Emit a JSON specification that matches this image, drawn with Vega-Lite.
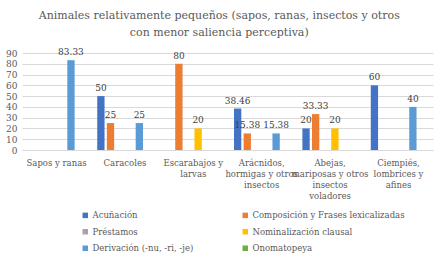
{
  "$schema": "https://vega.github.io/schema/vega-lite/v6.json",
  "width": 411,
  "height": 97,
  "padding": {"left": 5, "right": 12, "top": 10, "bottom": 0},
  "background": "white",
  "title": {
    "text": ["Animales relativamente pequeños (sapos, ranas, insectos y otros", "con menor saliencia perceptiva)"],
    "font": "DejaVu Serif",
    "fontSize": 11,
    "fontWeight": "normal",
    "color": "#595959",
    "anchor": "middle",
    "frame": "bounds",
    "lineHeight": 17,
    "offset": 10
  },
  "data": {
    "values": [
      {"cat": "Sapos y ranas", "serie": "Derivación (-nu, -ri, -je)", "v": 83.33},
      {"cat": "Caracoles", "serie": "Acuñación", "v": 50},
      {"cat": "Caracoles", "serie": "Composición y Frases lexicalizadas", "v": 25},
      {"cat": "Caracoles", "serie": "Derivación (-nu, -ri, -je)", "v": 25},
      {"cat": "Escarabajos y|larvas", "serie": "Composición y Frases lexicalizadas", "v": 80},
      {"cat": "Escarabajos y|larvas", "serie": "Nominalización clausal", "v": 20},
      {"cat": "Arácnidos,|hormigas y otros|insectos", "serie": "Acuñación", "v": 38.46},
      {"cat": "Arácnidos,|hormigas y otros|insectos", "serie": "Composición y Frases lexicalizadas", "v": 15.38},
      {"cat": "Arácnidos,|hormigas y otros|insectos", "serie": "Derivación (-nu, -ri, -je)", "v": 15.38},
      {"cat": "Abejas,|mariposas y otros|insectos|voladores", "serie": "Acuñación", "v": 20},
      {"cat": "Abejas,|mariposas y otros|insectos|voladores", "serie": "Composición y Frases lexicalizadas", "v": 33.33},
      {"cat": "Abejas,|mariposas y otros|insectos|voladores", "serie": "Nominalización clausal", "v": 20},
      {"cat": "Ciempiés,|lombrices y|afines", "serie": "Acuñación", "v": 60},
      {"cat": "Ciempiés,|lombrices y|afines", "serie": "Derivación (-nu, -ri, -je)", "v": 40}
    ]
  },
  "encoding": {
    "x": {
      "field": "cat", "type": "nominal", "sort": null,
      "scale": {"paddingInner": 0.19, "paddingOuter": 0.1},
      "axis": {
        "title": null, "labelAngle": 0, "ticks": false,
        "labelExpr": "split(datum.label, '|')",
        "labelFont": "DejaVu Serif", "labelFontSize": 8.5, "labelColor": "#595959",
        "labelLineHeight": 11, "labelPadding": 8, "labelLimit": 0,
        "domainColor": "#D9D9D9", "grid": false
      }
    },
    "xOffset": {
      "field": "serie", "type": "nominal",
      "scale": {
        "domain": ["Acuñación", "Composición y Frases lexicalizadas", "Préstamos", "Nominalización clausal", "Derivación (-nu, -ri, -je)", "Onomatopeya"],
        "paddingInner": 0.24, "paddingOuter": 0
      }
    },
    "y": {
      "field": "v", "type": "quantitative",
      "scale": {"domain": [0, 90]},
      "axis": {
        "title": null, "values": [0, 10, 20, 30, 40, 50, 60, 70, 80, 90],
        "domain": false, "ticks": false, "gridColor": "#D9D9D9",
        "labelFont": "DejaVu Serif", "labelFontSize": 9, "labelColor": "#595959", "labelPadding": 5
      }
    }
  },
  "layer": [
    {
      "mark": {"type": "bar"},
      "encoding": {
        "color": {
          "field": "serie", "type": "nominal",
          "scale": {
            "domain": ["Acuñación", "Composición y Frases lexicalizadas", "Préstamos", "Nominalización clausal", "Derivación (-nu, -ri, -je)", "Onomatopeya"],
            "range": ["#4472C4", "#ED7D31", "#A5A5A5", "#FFC000", "#5B9BD5", "#70AD47"]
          },
          "legend": {
            "title": null, "orient": "none", "legendX": 59, "legendY": 158,
            "direction": "horizontal", "columns": 2, "columnPadding": 47, "rowPadding": 7.5,
            "symbolType": "square", "symbolSize": 30, "symbolStrokeWidth": 0,
            "labelFont": "DejaVu Serif", "labelFontSize": 8.5, "labelColor": "#595959",
            "labelOffset": 3, "labelLimit": 0
          }
        }
      }
    },
    {
      "mark": {"type": "text", "baseline": "bottom", "dy": -3, "font": "DejaVu Serif", "fontSize": 9, "color": "#404040"},
      "encoding": {
        "text": {"field": "v", "type": "quantitative", "format": ".2~f"}
      }
    }
  ],
  "config": {"view": {"stroke": null}}
}
